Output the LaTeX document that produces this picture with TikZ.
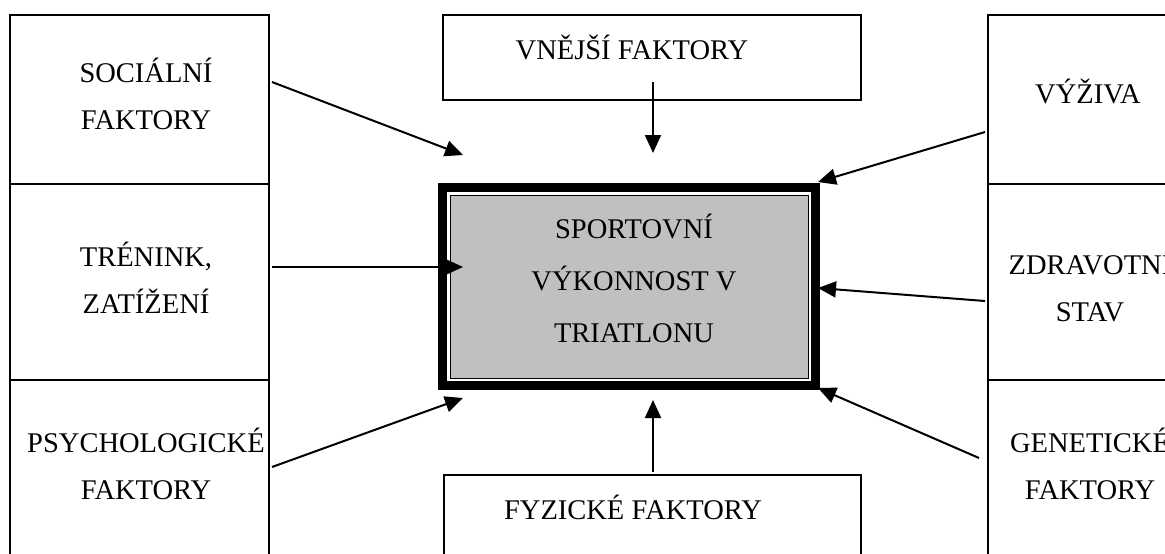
\documentclass[tikz,border=0pt]{standalone}
\usepackage{fontspec}
\setmainfont{Liberation Serif}
\usetikzlibrary{arrows.meta}

\definecolor{boxgray}{RGB}{192,192,192}

\tikzset{
  cell/.style={draw, line width=2pt, inner sep=0pt},
  lbl/.style={font=\fontsize{28.5}{47}\selectfont, align=center, inner sep=0pt, text height=0pt, anchor=north},
  perfbox/.style={fill=boxgray, draw, line width=1pt, inner sep=0pt,
    preaction={draw, line width=24pt},
    preaction={draw=white, line width=6pt}},
  arr/.style={line width=2pt, -{Triangle[length=18pt,width=16pt]}}
}

\begin{document}
\begin{tikzpicture}[x=1pt, y=-1pt]
  \useasboundingbox (0,0) rectangle (1165,554);
  \clip (0,0) rectangle (1165,554);

  % left column
  \node[cell, minimum width=259pt, minimum height=169pt] (soc) at (139.5,99.5) {};
  \node[cell, minimum width=259pt, minimum height=196pt] (tren) at (139.5,282) {};
  \node[cell, minimum width=259pt, minimum height=200pt] (psy) at (139.5,480) {};
  % (text nodes are placed at the baseline of their last line)
  \node[lbl] (soctxt) at (146,128.5) {SOCIÁLNÍ\\FAKTORY};
  \node[lbl] (trentxt) at (146,313) {TRÉNINK,\\ZATÍŽENÍ};
  \node[lbl] (psytxt) at (146,499) {PSYCHOLOGICKÉ\\FAKTORY};

  % right column
  \node[cell, minimum width=202pt, minimum height=169pt] (vyz) at (1089,99.5) {};
  \node[cell, minimum width=202pt, minimum height=196pt] (zdr) at (1089,282) {};
  \node[cell, minimum width=202pt, minimum height=200pt] (gen) at (1089,480) {};
  \node[lbl] (vyztxt) at (1088,103.5) {VÝŽIVA};
  \node[lbl] (zdrtxt) at (1090,321) {ZDRAVOTNÍ\\STAV};
  \node[lbl] (gentxt) at (1090,499) {GENETICKÉ\\FAKTORY};

  % top and bottom
  \node[cell, minimum width=418pt, minimum height=85pt] (vne) at (652,57.5) {};
  \node[cell, minimum width=417pt, minimum height=125pt] (fyz) at (652.5,537.5) {};
  \node[lbl] (vnetxt) at (632,59) {VNĚJŠÍ FAKTORY};
  \node[lbl] (fyztxt) at (633,519) {FYZICKÉ FAKTORY};

  % centre
  \node[perfbox, minimum width=358pt, minimum height=183pt] (perf) at (629,286.5) {};
  \node[lbl, font=\fontsize{28.5}{52}\selectfont] (perftxt) at (634,342) {SPORTOVNÍ\\VÝKONNOST V\\TRIATLONU};

  % arrows
  \coordinate (socend) at (463,155);
  \coordinate (trenend) at (463,267);
  \coordinate (psyend) at (463,398);
  \coordinate (vyzend) at (818,182);
  \coordinate (zdrend) at (818,288);
  \coordinate (genend) at (818,388);
  \coordinate (vneend) at (653,153);
  \coordinate (fyzend) at (653,400);
  \draw[arr] ([xshift=2pt, yshift=17.5pt]soc.east) -- (socend);
  \draw[arr] ([xshift=2pt, yshift=15pt]tren.east) -- (trenend);
  \draw[arr] ([xshift=2pt, yshift=13pt]psy.east) -- (psyend);
  \draw[arr] ([xshift=-2pt, yshift=-32.5pt]vyz.west) -- (vyzend);
  \draw[arr] ([xshift=-2pt, yshift=-19pt]zdr.west) -- (zdrend);
  \draw[arr] ([xshift=-8pt, yshift=22pt]gen.west) -- (genend);
  \draw[arr] ([xshift=1pt, yshift=-24.5pt]vne.center) -- (vneend);
  \draw[arr] ([xshift=0.5pt, yshift=2pt]fyz.north) -- (fyzend);
\end{tikzpicture}
\end{document}
